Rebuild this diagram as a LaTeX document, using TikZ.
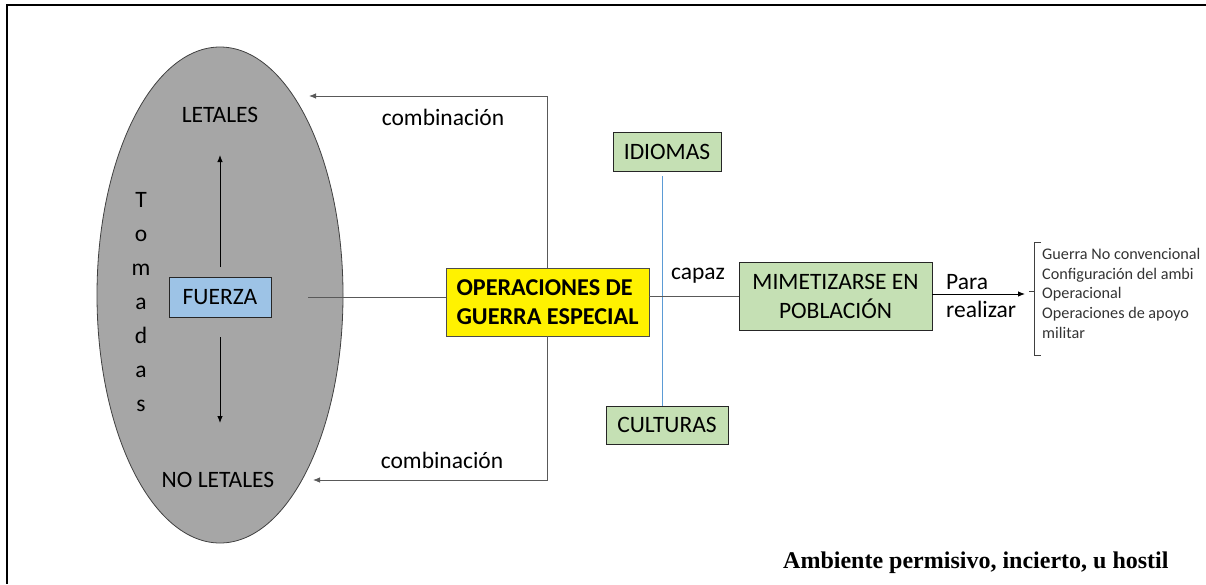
\documentclass[tikz,border=0pt]{standalone}
\usepackage{fontspec}
\setmainfont{Carlito}
\newfontfamily\timesfont{Liberation Serif}
\usetikzlibrary{shapes.geometric,arrows.meta}
\definecolor{ellfill}{HTML}{A6A6A6}
\definecolor{fuerzafill}{HTML}{9DC3E6}
\definecolor{greenfill}{HTML}{C5E0B4}
\definecolor{bluelink}{HTML}{5B9BD5}
\tikzset{
  lbl/.style={font=\fontsize{23.5}{28}\selectfont, inner sep=0pt},
  boxg/.style={draw=black!85, line width=0.9pt, fill=greenfill, inner sep=0pt, font=\fontsize{23.5}{28}\selectfont},
  conn/.style={draw=black!65, line width=0.8pt},
  arr/.style={conn, -{Latex[length=7pt,width=5.5pt]}},
}
\begin{document}
\begin{tikzpicture}[x=1pt,y=-1pt]
\useasboundingbox (0,0) rectangle (1206,584);
% frame
\coordinate (frTR) at (1206,5);
\coordinate (frTL) at (7,5);
\coordinate (frBL) at (7,584);
\draw[line width=1.1pt] (frTR) -- (frTL) -- (frBL);
% ellipse
\node[ellipse, draw=black!75, line width=0.8pt, fill=ellfill, minimum width=246pt, minimum height=496pt, inner sep=0pt] (ell) at (220,295) {};
\node[lbl] (letales) at (220,115) {LETALES};
\node[lbl] (noletales) at (218,480) {NO LETALES};
\node[draw=black!85, line width=0.9pt, fill=fuerzafill, minimum width=102pt, minimum height=40pt, inner sep=0pt, font=\fontsize{23.5}{28}\selectfont] (fuerza) at (220,297) {FUERZA};
\node[lbl, align=center, font=\fontsize{23.5}{34}\selectfont] (tomadas) at (141,302) {T\\o\\m\\a\\d\\a\\s};
\coordinate (upS) at (220,267);
\coordinate (upE) at (220,155);
\coordinate (dnS) at (220,337);
\coordinate (dnE) at (220,423);
\draw[line width=0.9pt, -{Latex[length=7pt,width=5.5pt]}] (upS) -- (upE);
\draw[line width=0.9pt, -{Latex[length=7pt,width=5.5pt]}] (dnS) -- (dnE);
% operaciones
\node[draw=black!70, line width=0.8pt, fill=yellow, minimum width=203pt, minimum height=68pt, inner sep=0pt, align=left, font=\bfseries\fontsize{24.2}{28.5}\selectfont] (ops) at (547.5,302) {OPERACIONES DE\\GUERRA ESPECIAL};
\coordinate (fstart) at (308,297.5);
\draw[conn] (fstart) -- (fstart -| ops.west);
\coordinate (topE) at (309,96);
\coordinate (botE) at (313,480);
\draw[arr] (ops.north) |- (topE);
\draw[arr] (ops.south) |- (botE);
\node[lbl] (comb1) at (443,117) {combinación};
\node[lbl] (comb2) at (442,460) {combinación};
% idiomas / culturas
\node[boxg, minimum width=108pt, minimum height=39pt] (idiomas) at (667,151.5) {IDIOMAS};
\node[boxg, minimum width=122pt, minimum height=38pt] (culturas) at (667,425) {CULTURAS};
\coordinate (blS) at (662,176);
\draw[bluelink, line width=0.9pt] (blS) -- (blS |- culturas.north);
% mimetizarse
\node[boxg, minimum width=193pt, minimum height=68pt, align=center, font=\fontsize{23.5}{29}\selectfont] (mim) at (835.5,296) {MIMETIZARSE EN\\POBLACIÓN};
\coordinate (rl) at (649,296);
\draw[conn] (rl) -- (rl -| mim.west);
\node[lbl] (capaz) at (698,276) {capaz};
\coordinate (paraE) at (1025,294);
\draw[line width=0.9pt, -{Latex[length=7pt,width=5.5pt]}] (mim.east |- paraE) -- (paraE);
\node[lbl, anchor=west, align=left, font=\fontsize{23.5}{28}\selectfont] (para) at (946,296) {Para\\realizar};
% bracket
\coordinate (brT) at (1041,242);
\coordinate (brB) at (1041,355);
\coordinate (brM) at (1029,291);
\draw[black!75, line width=0.8pt] (brT) -- (1034,242) -- (1034,355) -- (brB);
\draw[black!75, line width=0.8pt] (brM) -- (1034,291);
\node[anchor=north west, align=left, inner sep=0pt, text=black!80, font=\fontsize{16.2}{19.7}\selectfont] (list) at (1042,248) {Guerra No convencional\\Configuración del ambi\\Operacional\\Operaciones de apoyo\\militar};
% bottom caption
\node[inner sep=0pt, anchor=west, font=\timesfont\bfseries\fontsize{24}{28}\selectfont] (amb) at (783,563) {Ambiente permisivo, incierto, u hostil};
\end{tikzpicture}
\end{document}
